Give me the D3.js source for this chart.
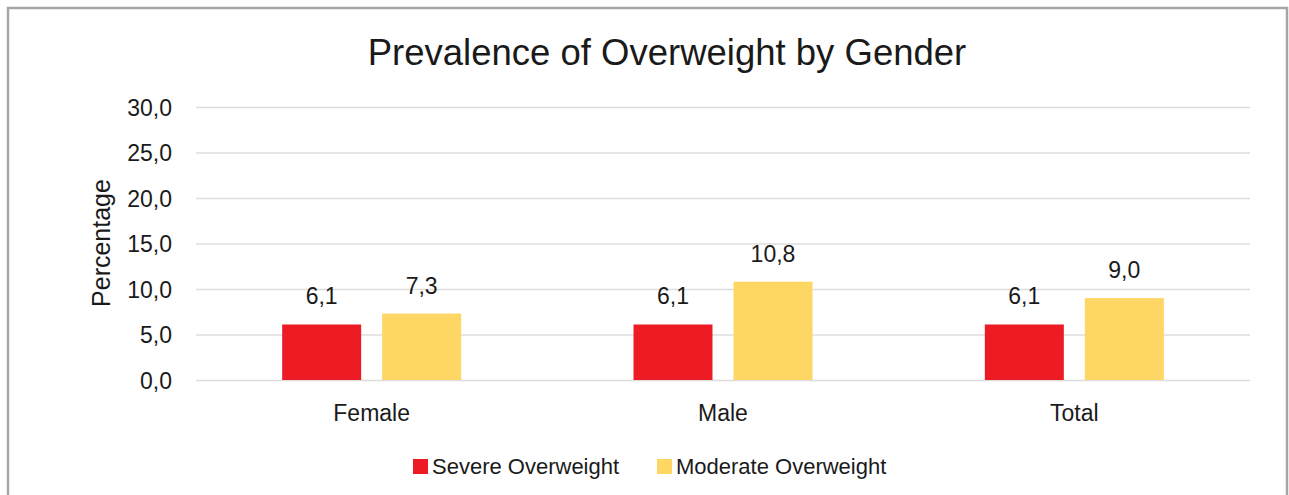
<!DOCTYPE html>
<html><head><meta charset="utf-8">
<script src="https://cdn.jsdelivr.net/npm/d3@7"></script>
<style>body{margin:0;background:#fff;}svg{display:block;font-family:"Liberation Sans",Arial,sans-serif;}</style>
</head><body>
<svg id="c" width="1289" height="495"></svg>
<script>
const categories = ["Female","Male","Total"];
const seriesNames = ["Severe Overweight","Moderate Overweight"];
const severe = [6.1, 6.1, 6.1];
const moderate = [7.3, 10.8, 9.0];
const yTicks = [0,5,10,15,20,25,30];
const colors = ["#ed1c24","#fdd663"];
const title = "Prevalence of Overweight by Gender";
const yTitle = "Percentage";

const svg = d3.select("#c");
svg.append("rect").attr("x",8).attr("y",8).attr("width",1279).attr("height",520)
  .attr("fill","#fff").attr("stroke","#a6a6a6").attr("stroke-width",2.5);

const L=196,R=1250,T=107,B=380;
const y=d3.scaleLinear().domain([0,30]).range([B,T]);
const x0=d3.scaleBand().domain(categories).range([L,R]).paddingInner(0).paddingOuter(0);
const groupW=179;
const x1=d3.scaleBand().domain(seriesNames).range([0,groupW]).paddingInner(0.21).paddingOuter(0);
const fmt=v=>d3.format(".1f")(v).replace(".",",");

const yAxis=d3.axisLeft(y).tickValues(yTicks).tickSize(-(R-L)).tickFormat(fmt).tickPadding(24);
const ga=svg.append("g").attr("transform",`translate(${L},0)`).call(yAxis);
ga.select(".domain").remove();
ga.selectAll(".tick line").attr("stroke","#e0dcdc").attr("stroke-width",1.5);
ga.selectAll(".tick text").attr("font-size",23).attr("fill","#1a1a1a").attr("font-family","Liberation Sans, Arial, sans-serif").attr("dy","0.36em");

const data=categories.map((c,i)=>({cat:c,vals:[severe[i],moderate[i]]}));
const g=svg.append("g").selectAll("g").data(data).join("g")
  .attr("transform",d=>`translate(${x0(d.cat)+(x0.bandwidth()-groupW)/2},0)`);
g.selectAll("rect").data(d=>d.vals.map((v,j)=>({s:seriesNames[j],v,j}))).join("rect")
  .attr("x",d=>x1(d.s)).attr("width",x1.bandwidth())
  .attr("y",d=>y(d.v)).attr("height",d=>B-y(d.v)).attr("fill",d=>colors[d.j]);
g.selectAll("text").data(d=>d.vals.map((v,j)=>({s:seriesNames[j],v,j}))).join("text")
  .attr("x",d=>x1(d.s)+x1.bandwidth()/2).attr("y",d=>y(d.v)-20)
  .attr("text-anchor","middle").attr("font-size",23).attr("fill","#1a1a1a").text(d=>fmt(d.v));

svg.append("g").selectAll("text").data(categories).join("text")
  .attr("x",d=>x0(d)+x0.bandwidth()/2).attr("y",421).attr("text-anchor","middle")
  .attr("font-size",23).attr("fill","#1a1a1a").text(d=>d);

svg.append("text").attr("x",667).attr("y",65).attr("text-anchor","middle")
  .attr("font-size",36.5).attr("fill","#1a1a1a").text(title);

svg.append("text").attr("transform","translate(110,243) rotate(-90)").attr("text-anchor","middle")
  .attr("font-size",25).attr("fill","#1a1a1a").text(yTitle);

const legX=[413,657];
const lg=svg.append("g").selectAll("g").data(seriesNames).join("g")
  .attr("transform",(d,i)=>`translate(${legX[i]},459)`);
lg.append("rect").attr("width",15).attr("height",15).attr("fill",(d,i)=>colors[i]);
lg.append("text").attr("x",19).attr("y",15).attr("font-size",22).attr("fill","#1a1a1a").text(d=>d);
</script>
</body></html>
